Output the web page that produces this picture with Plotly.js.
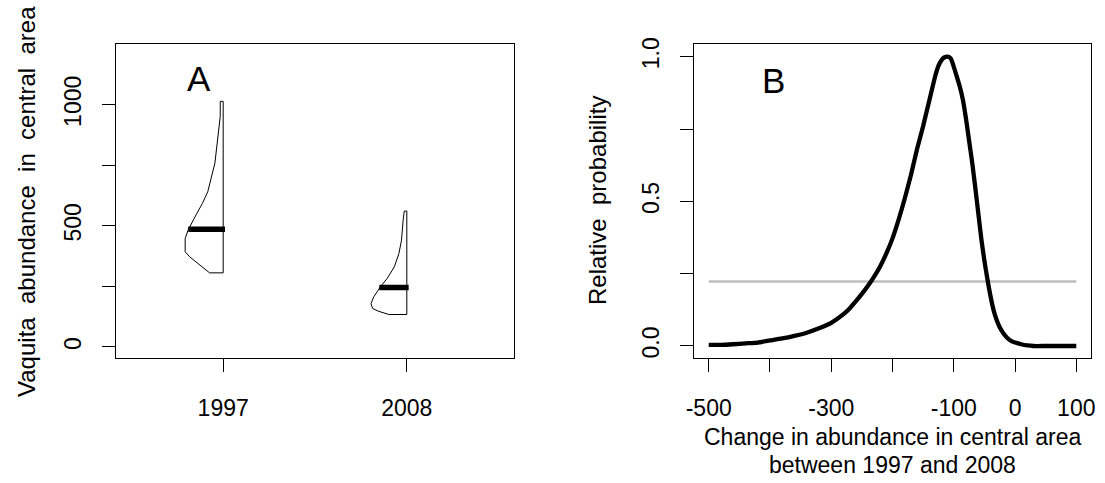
<!DOCTYPE html>
<html>
<head>
<meta charset="utf-8">
<script src="https://cdn.plot.ly/plotly-3.0.1.min.js"></script>
<style>html,body{margin:0;padding:0;background:#fff;}#chart{width:1105px;height:483px;}</style>
</head>
<body>
<div id="chart"></div>
<script>
// ---- Panel A data: half-violin outlines (abundance vs. relative density half-width) ----
var years = ['1997', '2008'];
var abund1997 = [1014, 952, 841, 759, 641, 593, 552, 513, 483, 448, 393, 372, 306];
var dens1997  = [0.016, 0.016, 0.031, 0.045, 0.084, 0.113, 0.143, 0.172, 0.191, 0.207, 0.207, 0.182, 0.074];
var abund2008 = [561, 524, 441, 386, 331, 283, 246, 207, 179, 159, 148, 134];
var dens2008  = [0.014, 0.020, 0.029, 0.043, 0.068, 0.107, 0.146, 0.180, 0.195, 0.186, 0.156, 0.098];
var medians = [486, 246];
var medianHalfWidth = [0.19, 0.15];

// ---- Panel B data: relative probability of change in abundance ----
var change = [-500, -480, -460, -440, -420, -400, -380, -360, -340, -320, -300, -290, -280, -270, -260,
  -250, -240, -230, -220, -210, -200, -190, -180, -170, -160, -150, -140, -130, -125, -120, -115, -110,
  -105, -100, -95, -90, -85, -80, -75, -70, -65, -60, -55, -50, -45, -40, -35, -30, -25, -20, -15, -10,
  -5, 0, 10, 20, 30, 50, 75, 100];
var relProb = [0.004, 0.004, 0.006, 0.009, 0.012, 0.019, 0.026, 0.035, 0.046, 0.061, 0.080, 0.094, 0.110,
  0.130, 0.154, 0.180, 0.208, 0.240, 0.276, 0.320, 0.372, 0.437, 0.510, 0.590, 0.680, 0.760, 0.848, 0.935,
  0.968, 0.988, 0.998, 1.0, 0.994, 0.965, 0.931, 0.895, 0.850, 0.785, 0.710, 0.635, 0.550, 0.460, 0.370,
  0.295, 0.230, 0.172, 0.124, 0.090, 0.065, 0.047, 0.033, 0.023, 0.016, 0.012, 0.006, 0.002, 0.0, 0.0, 0.0, 0.0];
var refLevel = 0.223;
var refRange = [-500, 100];

var xTicksB = [-500, -400, -300, -200, -100, 0, 100];
var xTickTextB = ['-500', '', '-300', '', '-100', '0', '100'];
var yTicksA = [0, 250, 500, 750, 1000];
var yTickTextA = ['0', '', '500', '', '1000'];
var yTicksB = [0, 0.25, 0.5, 0.75, 1.0];
var yTickTextB = ['0.0', '', '0.5', '', '1.0'];

var yTitleA = 'Vaquita  abundance  in  central  area';
var yTitleB = 'Relative  probability';
var xTitleB = ['Change in abundance in central area', 'between 1997 and 2008'];

var FONT = 'Liberation Sans, Arial, Helvetica, sans-serif';
function keepSpaces(s) { return s.replace(/ /g, '\u00a0'); }

function halfViolin(pos, ys, ws) {
  var x = [pos], y = [ys[0]];
  for (var i = 0; i < ys.length; i++) { x.push(pos - ws[i]); y.push(ys[i]); }
  x.push(pos); y.push(ys[ys.length - 1]);
  x.push(pos); y.push(ys[0]);
  return {x: x, y: y};
}

var v1 = halfViolin(1, abund1997, dens1997);
var v2 = halfViolin(2, abund2008, dens2008);

var traces = [
  {x: v1.x, y: v1.y, mode: 'lines', line: {color: '#000', width: 1}, xaxis: 'x', yaxis: 'y'},
  {x: v2.x, y: v2.y, mode: 'lines', line: {color: '#000', width: 1}, xaxis: 'x', yaxis: 'y'},
  {x: [1 - medianHalfWidth[0], 1.01], y: [medians[0], medians[0]], mode: 'lines', line: {color: '#000', width: 5.5}, xaxis: 'x', yaxis: 'y'},
  {x: [2 - medianHalfWidth[1], 2.01], y: [medians[1], medians[1]], mode: 'lines', line: {color: '#000', width: 5.5}, xaxis: 'x', yaxis: 'y'},
  {x: refRange, y: [refLevel, refLevel], mode: 'lines', line: {color: '#bebebe', width: 2.6}, xaxis: 'x2', yaxis: 'y2'},
  {x: change, y: relProb, mode: 'lines', line: {color: '#000', width: 4.3, shape: 'spline', smoothing: 0.6}, xaxis: 'x2', yaxis: 'y2'}
];

var axBase = {
  showline: true, mirror: true, linecolor: '#000', linewidth: 1,
  ticks: 'outside', ticklen: 13, tickwidth: 1, tickcolor: '#000',
  showgrid: false, zeroline: false, fixedrange: true,
  tickfont: {family: FONT, size: 23, color: '#000'}
};
function ax(o) { var r = {}; for (var k in axBase) r[k] = axBase[k]; for (var k2 in o) r[k2] = o[k2]; return r; }

var H = 483;
function py(pixel) { return (H - pixel) / H; }

var layout = {
  width: 1105, height: 483,
  margin: {l: 0, r: 0, t: 0, b: 0},
  paper_bgcolor: '#fff', plot_bgcolor: '#fff',
  showlegend: false,
  font: {family: FONT, color: '#000'},
  xaxis: ax({domain: [0.10525, 0.46489], range: [0.418, 2.582], tickmode: 'array', tickvals: [1, 2], ticktext: years,
    ticklabelstandoff: 16, anchor: 'y'}),
  yaxis: ax({domain: [0.2582, 0.9079], range: [-46.7, 1248.8], tickmode: 'array', tickvals: yTicksA, ticktext: yTickTextA,
    tickangle: -90, ticklabelstandoff: 12, anchor: 'x'}),
  xaxis2: ax({domain: [0.62805, 0.98733], range: [-524, 124], tickmode: 'array', tickvals: xTicksB, ticktext: xTickTextB,
    ticklabelstandoff: 16, anchor: 'y2'}),
  yaxis2: ax({domain: [0.2582, 0.9079], range: [-0.0425, 1.0422], tickmode: 'array', tickvals: yTicksB, ticktext: yTickTextB,
    tickangle: -90, ticklabelstandoff: 12, anchor: 'x2'}),
  annotations: [
    {text: 'A', x: 0.867, y: 1107, xref: 'x', yref: 'y', showarrow: false, font: {family: FONT, size: 35, color: '#000'}},
    {text: 'B', x: -394, y: 0.916, xref: 'x2', yref: 'y2', showarrow: false, font: {family: FONT, size: 35, color: '#000'}},
    {text: keepSpaces(yTitleA), x: 0.0235, y: py(201), xref: 'paper', yref: 'paper', xanchor: 'center', yanchor: 'middle',
      textangle: -90, showarrow: false, font: {family: FONT, size: 24, color: '#000'}},
    {text: keepSpaces(yTitleB), x: 0.5403, y: py(201), xref: 'paper', yref: 'paper', xanchor: 'center', yanchor: 'middle',
      textangle: -90, showarrow: false, font: {family: FONT, size: 24, color: '#000'}},
    {text: xTitleB[0], x: 0.8077, y: py(437), xref: 'paper', yref: 'paper', xanchor: 'center', yanchor: 'middle',
      showarrow: false, borderpad: 0, font: {family: FONT, size: 23, color: '#000'}},
    {text: xTitleB[1], x: 0.8077, y: py(465), xref: 'paper', yref: 'paper', xanchor: 'center', yanchor: 'middle',
      showarrow: false, borderpad: 0, font: {family: FONT, size: 23, color: '#000'}}
  ]
};

Plotly.newPlot('chart', traces, layout, {staticPlot: true, displayModeBar: false});
</script>
</body>
</html>
